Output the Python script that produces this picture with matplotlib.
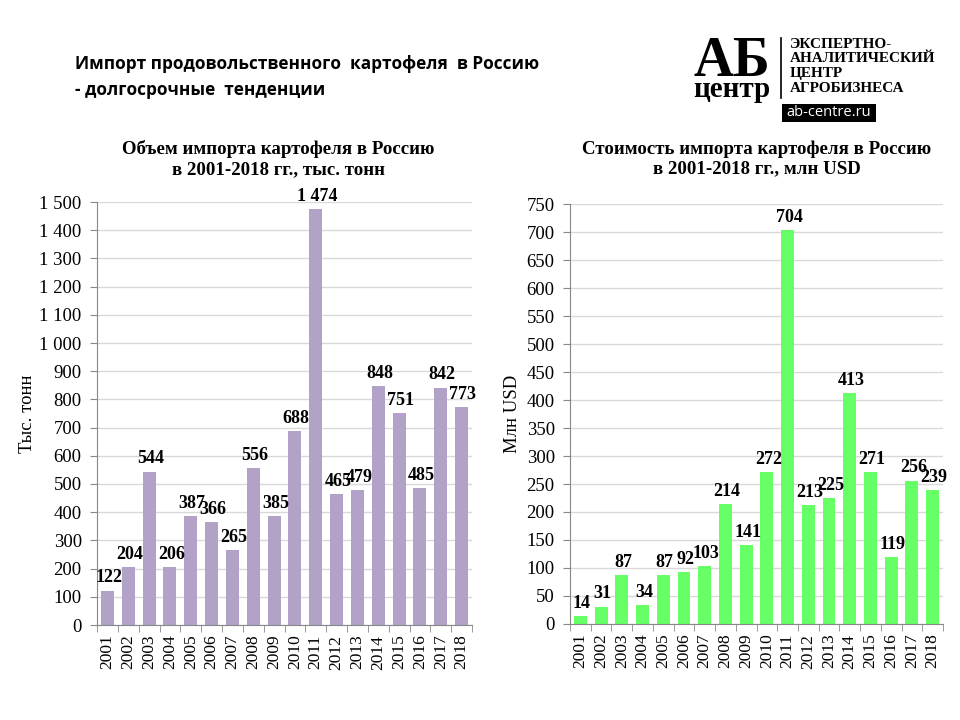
import numpy as np
import matplotlib.pyplot as plt
from matplotlib.patches import Rectangle
from matplotlib.lines import Line2D

years = [str(y) for y in range(2001, 2019)]
volume = [122, 204, 544, 206, 387, 366, 265, 556, 385, 688, 1474, 465, 479, 848, 751, 485, 842, 773]
value_usd = [14, 31, 87, 34, 87, 92, 103, 214, 141, 272, 704, 213, 225, 413, 271, 119, 256, 239]

serif = 'Liberation Serif'
W, H = 960, 720

fig = plt.figure(figsize=(9.6, 7.2), dpi=100)


def fx(px):
    return px / W


def fy(py):
    return 1 - py / H


def fmt_space(v):
    return f"{v:,}".replace(",", " ")


def draw_chart(rect, vals, color, ymax, step, ylabel, space_fmt):
    ax = fig.add_axes(rect)
    x = np.arange(len(vals))
    ax.bar(x, vals, width=0.62, color=color, zorder=2)
    ax.set_xlim(-0.5, len(vals) - 0.5)
    ax.set_ylim(0, ymax)
    ticks = np.arange(0, ymax + 1, step)
    ax.set_yticks(ticks)
    ax.set_yticklabels([fmt_space(int(t)) if space_fmt else str(int(t)) for t in ticks],
                       fontfamily=serif, fontsize=13.5)
    ax.yaxis.grid(True, color='#d9d9d9', linewidth=1, zorder=0)
    ax.set_axisbelow(True)
    for s in ['top', 'right']:
        ax.spines[s].set_visible(False)
    ax.spines['left'].set_color('#888888')
    ax.spines['bottom'].set_color('#888888')
    ax.tick_params(axis='y', length=5, color='#888888', pad=6)
    # category labels, ticks between categories
    ax.set_xticks(x)
    ax.set_xticklabels(years, rotation=90, fontfamily=serif, fontsize=12.5)
    ax.tick_params(axis='x', which='major', length=0, pad=7)
    ax.set_xticks(np.arange(-0.5, len(vals), 1), minor=True)
    ax.tick_params(axis='x', which='minor', length=5, color='#888888')
    for xi, v in zip(x, vals):
        ax.annotate(fmt_space(v), (xi, v), xytext=(1, 3), textcoords='offset points',
                    ha='center', va='bottom', fontfamily=serif, fontweight='bold',
                    fontsize=13)
    ax.set_ylabel(ylabel, fontfamily=serif, fontsize=13.5)
    return ax


ax1 = draw_chart([fx(97), fy(625), fx(472 - 97), (625 - 202) / H],
                 volume, '#b3a2c7', 1500, 100, 'Тыс. тонн', True)
ax1.yaxis.set_label_coords(-0.163, 0.5)
ax2 = draw_chart([fx(570), fy(624), fx(943 - 570), (624 - 204) / H],
                 value_usd, '#66ff66', 750, 50, 'Млн USD', False)
ax2.yaxis.set_label_coords(-0.131, 0.5)

# chart titles
fig.text(fx(278), fy(159), 'Объем импорта картофеля в Россию\nв 2001-2018 гг., тыс. тонн',
         ha='center', va='center', fontfamily=serif, fontweight='bold', fontsize=13.6,
         linespacing=1.2)
fig.text(fx(757), fy(159), 'Стоимость импорта картофеля в Россию\nв 2001-2018 гг., млн USD',
         ha='center', va='center', fontfamily=serif, fontweight='bold', fontsize=13.6,
         linespacing=1.2)

# main title
fig.text(fx(75), fy(64), 'Импорт продовольственного  картофеля  в Россию',
         ha='left', va='center', fontfamily='Open Sans', fontweight='bold', fontsize=12.4)
fig.text(fx(75), fy(90), '- долгосрочные  тенденции',
         ha='left', va='center', fontfamily='Open Sans', fontweight='bold', fontsize=12.4)

# logo
fig.text(fx(732), fy(76), 'АБ', ha='center', va='baseline', fontfamily=serif,
         fontweight='bold', fontsize=40)
fig.text(fx(732), fy(97), 'центр', ha='center', va='baseline', fontfamily=serif,
         fontweight='bold', fontsize=21)
fig.add_artist(Line2D([fx(781), fx(781)], [fy(38), fy(98)], color='black', linewidth=1.2))
for i, line in enumerate(['ЭКСПЕРТНО-', 'АНАЛИТИЧЕСКИЙ', 'ЦЕНТР', 'АГРОБИЗНЕСА']):
    fig.text(fx(790), fy(44 + i * 15), line, ha='left', va='center', fontfamily=serif,
             fontweight='bold', fontsize=11)
fig.add_artist(Rectangle((fx(782), fy(122)), fx(876 - 782), (122 - 104) / H,
                         facecolor='black', edgecolor='none'))
fig.text(fx(829), fy(113), 'ab-centre.ru', ha='center', va='center', color='white',
         fontfamily='Open Sans', fontsize=10.5)

fig.savefig('out.png', dpi=100)
